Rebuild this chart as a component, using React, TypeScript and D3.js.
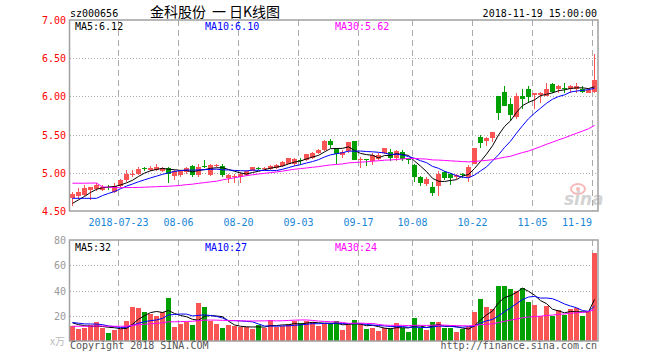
import React from 'react';
import * as d3 from 'd3';

// trading days shown (2018)
const julyDays = [11, 12, 13, 16, 17, 18, 19, 20, 23, 24, 25, 26, 27, 30, 31];
const augDays = [1, 2, 3, 6, 7, 8, 9, 10, 13, 14, 15, 16, 17, 20, 21, 22, 23, 24, 27, 28, 29, 30, 31];
const sepDays = [3, 4, 5, 6, 7, 10, 11, 12, 13, 14, 17, 18, 19, 20, 21, 25, 26, 27, 28];
const octDays = [8, 9, 10, 11, 12, 15, 16, 17, 18, 19, 22, 23, 24, 25, 26, 29, 30, 31];
const novDays = [1, 2, 5, 6, 7, 8, 9, 12, 13, 14, 15, 16, 19];

const pad = (n: number) => String(n).padStart(2, '0');
const dates: string[] = [
  ...julyDays.map(d => `07-${pad(d)}`),
  ...augDays.map(d => `08-${pad(d)}`),
  ...sepDays.map(d => `09-${pad(d)}`),
  ...octDays.map(d => `10-${pad(d)}`),
  ...novDays.map(d => `11-${pad(d)}`),
];

const open = [
  4.67, 4.69, 4.71, 4.77, 4.79, 4.78, 4.81, 4.75, 4.83, 4.90,
  4.97, 4.99, 5.06, 5.04, 5.04, 5.02, 5.06, 4.96, 4.97, 5.01,
  5.09, 4.97, 5.09, 4.97, 5.09, 5.09, 4.93, 4.95, 4.95, 4.97,
  5.03, 5.06, 5.05, 5.05, 5.06, 5.09, 5.12, 5.12, 5.17, 5.17,
  5.19, 5.26, 5.30, 5.42, 5.32, 5.23, 5.28, 5.41, 5.17, 5.18,
  5.16, 5.18, 5.26, 5.27, 5.19, 5.27, 5.18, 5.10, 4.94, 4.85,
  4.81, 4.83, 5.01, 4.99, 4.94, 4.99, 4.95, 5.12, 5.47, 5.42,
  5.45, 6.01, 6.06, 5.90, 5.73, 6.01, 6.10, 6.02, 6.02, 6.01,
  6.16, 6.10, 6.11, 6.10, 6.10, 6.10, 6.05, 6.06,
];
const high = [
  4.75, 4.80, 4.84, 4.82, 4.86, 4.84, 4.84, 4.86, 4.92, 5.04,
  5.04, 5.08, 5.08, 5.09, 5.11, 5.08, 5.07, 5.04, 5.03, 5.07,
  5.10, 5.11, 5.17, 5.11, 5.12, 5.12, 4.99, 4.99, 5.01, 5.04,
  5.08, 5.08, 5.08, 5.10, 5.11, 5.15, 5.20, 5.19, 5.19, 5.25,
  5.27, 5.31, 5.43, 5.44, 5.33, 5.30, 5.40, 5.41, 5.21, 5.18,
  5.26, 5.26, 5.33, 5.31, 5.30, 5.30, 5.19, 5.11, 4.96, 4.94,
  4.88, 5.02, 5.02, 5.00, 4.99, 5.00, 5.10, 5.33, 5.50, 5.47,
  5.53, 6.01, 6.13, 5.98, 6.04, 6.10, 6.13, 6.05, 6.06, 6.18,
  6.17, 6.15, 6.17, 6.15, 6.17, 6.13, 6.11, 6.55,
];
const low = [
  4.57, 4.66, 4.69, 4.64, 4.76, 4.76, 4.78, 4.74, 4.80, 4.88,
  4.94, 4.97, 5.03, 5.03, 5.03, 5.01, 4.86, 4.91, 4.94, 4.99,
  4.95, 4.94, 5.06, 4.96, 5.07, 4.94, 4.87, 4.87, 4.86, 4.96,
  5.02, 5.04, 5.04, 5.04, 5.05, 5.08, 5.11, 5.09, 5.10, 5.16,
  5.18, 5.25, 5.29, 5.32, 5.12, 5.19, 5.26, 5.17, 5.06, 5.09,
  5.10, 5.17, 5.25, 5.15, 5.16, 5.16, 5.12, 4.88, 4.83, 4.83,
  4.70, 4.70, 4.91, 4.84, 4.92, 4.93, 4.88, 5.11, 5.33, 5.35,
  5.40, 5.69, 5.87, 5.68, 5.71, 5.84, 5.91, 5.84, 5.91, 6.00,
  6.04, 6.05, 6.04, 6.05, 6.04, 6.04, 6.04, 6.04,
];
const close = [
  4.72, 4.75, 4.80, 4.81, 4.84, 4.82, 4.80, 4.83, 4.91, 4.98,
  4.99, 5.05, 5.05, 5.06, 5.07, 5.06, 4.99, 5.02, 5.02, 5.06,
  4.97, 5.08, 5.08, 5.10, 5.10, 4.97, 4.97, 4.96, 4.99, 5.03,
  5.07, 5.05, 5.06, 5.09, 5.10, 5.14, 5.19, 5.18, 5.16, 5.24,
  5.26, 5.30, 5.41, 5.37, 5.25, 5.27, 5.40, 5.17, 5.18, 5.17,
  5.23, 5.23, 5.32, 5.19, 5.28, 5.18, 5.17, 4.95, 4.86, 4.92,
  4.74, 4.98, 4.93, 4.93, 4.97, 4.98, 5.08, 5.32, 5.39, 5.45,
  5.53, 5.78, 5.88, 5.76, 6.01, 5.97, 5.99, 6.04, 6.04, 6.10,
  6.06, 6.13, 6.10, 6.13, 6.14, 6.06, 6.08, 6.22,
];
// volume, in 10,000 lots
const volume = [
  11.7, 9.3, 10.3, 13.0, 14.8, 10.1, 6.1, 8.5, 9.3, 15.6,
  26.8, 26.0, 22.8, 21.2, 20.1, 22.8, 33.9, 11.1, 13.2, 15.1,
  12.5, 30.2, 26.8, 16.2, 13.2, 10.1, 12.5, 11.5, 11.1, 11.0,
  9.3, 13.0, 10.6, 17.0, 11.2, 12.0, 13.5, 15.5, 14.5, 15.5,
  15.0, 11.7, 13.8, 14.5, 15.6, 8.7, 12.9, 16.4, 13.2, 9.3,
  10.3, 7.7, 10.5, 10.3, 14.0, 10.1, 6.9, 18.0, 10.1, 8.5,
  14.8, 14.8, 10.1, 10.1, 6.9, 9.3, 11.1, 22.8, 33.1, 26.8,
  25.2, 43.4, 43.4, 41.1, 39.5, 41.9, 30.7, 28.3, 19.6, 27.5,
  19.6, 24.4, 20.4, 25.2, 26.0, 19.6, 24.1, 69.7,
];

// history before the visible window, estimated from where the MA lines start
const priorClose = [
  4.76, 4.79, 4.78, 4.81, 6.35, 4.92, 4.95, 4.98, 4.93, 4.96,
  5.01, 4.97, 4.94, 4.99, 4.95, 4.92, 4.88, 4.82, 4.78, 4.77,
  4.75, 4.80, 4.81, 4.84, 4.46, 4.52, 4.58, 4.55, 4.63,
];
const priorVolume = [
  9.5, 10.8, 11.2, 9.0, 10.4, 12.6, 8.8, 9.7, 11.5, 10.2,
  9.1, 10.9, 12.0, 8.6, 9.8, 10.5, 11.3, 9.4, 10.1, 8.9,
  14.2, 16.1, 13.8, 15.4, 14.9, 16.3, 14.1, 15.8, 13.9,
];

const tickDates = ['07-23', '08-06', '08-20', '09-03', '09-17', '10-08', '10-22', '11-05', '11-19'];
const tickLabels = ['2018-07-23', '08-06', '08-20', '09-03', '09-17', '10-08', '10-22', '11-05', '11-19'];
const priceTicks = [7.0, 6.5, 6.0, 5.5, 5.0, 4.5];
const volumeTicks = [80, 60, 40, 20];
const priceMaLabels = ['MA5:6.12', 'MA10:6.10', 'MA30:5.62'];
const volumeMaLabels = ['MA5:32', 'MA10:27', 'MA30:24'];
const titleParts = ['金科股份', '一', '日K线图'];
const maPeriods = [5, 10, 30];
const maColors = ['#000000', '#0000ff', '#ff00ff'];

const RED = '#f95555';
const GREEN = '#00a000';
const GRID = '#aaaaaa';
const FRAME = '#a0a0a0';
const MONO = '"DejaVu Sans Mono", monospace';
const CJK = '"Noto Sans CJK SC", sans-serif';

const movingAverage = (values: number[], prior: number[], n: number) => {
  const all = prior.concat(values);
  return values.map((_, i) => d3.mean(all.slice(prior.length + i - n + 1, prior.length + i + 1)) as number);
};

const App = () => {
  const left = 70;
  const right = 598;
  const x = d3.scaleBand<string>().domain(dates).range([left, right]).padding(0);
  const y = d3.scaleLinear().domain([4.5, 7]).range([211, 20]);
  const yv = d3.scaleLinear().domain([0, 80]).range([341, 240]);
  const cx = (i: number) => (x(dates[i]) as number) + 2.5;

  const priceLine = d3.line<number>().x((_, i) => cx(i)).y(d => y(d));
  const volLine = d3.line<number>().x((_, i) => cx(i)).y(d => yv(d));

  const priceMas = maPeriods.map(n => movingAverage(close, priorClose, n));
  const volMas = maPeriods.map(n => movingAverage(volume, priorVolume, n));

  const isUp = (i: number) => close[i] >= open[i];

  const gridX = tickDates.map(d => (x(d) as number) + 0.5);
  const titleX = [150, 212, 229];

  return (
    <svg width={660} height={360} style={{ position: 'absolute', left: 0, top: 0, background: '#fff' }}>
      <rect x={0} y={0} width={660} height={360} fill="#fff" />
      {/* header */}
      <text x={70} y={17} fontFamily={MONO} fontSize={10} fill="#000">sz000656</text>
      {titleParts.map((t, k) => (
        <text key={t} x={titleX[k]} y={17} fontFamily={CJK} fontSize={14} fill="#000">{t}</text>
      ))}
      <text x={597} y={17} textAnchor="end" fontFamily={MONO} fontSize={10} fill="#000">2018-11-19 15:00:00</text>

      {/* grid */}
      {priceTicks.slice(1, -1).map(t => (
        <line key={t} x1={left} x2={right} y1={Math.round(y(t)) + 0.5} y2={Math.round(y(t)) + 0.5}
          stroke={GRID} strokeDasharray="1,2" />
      ))}
      {volumeTicks.slice(1).map(t => (
        <line key={t} x1={left} x2={right} y1={Math.round(yv(t)) + 0.5} y2={Math.round(yv(t)) + 0.5}
          stroke={GRID} strokeDasharray="1,2" />
      ))}
      {gridX.map(gx => (
        <g key={gx}>
          <line x1={gx} x2={gx} y1={20} y2={211} stroke={GRID} strokeDasharray="6,4" />
          <line x1={gx} x2={gx} y1={240} y2={341} stroke={GRID} strokeDasharray="6,4" />
        </g>
      ))}

      {/* axis labels */}
      {priceTicks.map(t => (
        <text key={t} x={66} y={y(t) + 4} textAnchor="end" fontFamily={MONO} fontSize={10} fill="#ff0000">
          {t.toFixed(2)}
        </text>
      ))}
      {volumeTicks.map(t => (
        <text key={t} x={66} y={yv(t) + 4} textAnchor="end" fontFamily={MONO} fontSize={10} fill="#999">{t}</text>
      ))}
      <text x={50} y={345} fontFamily={CJK} fontSize={10} fill="#bbb">x万</text>

      {tickDates.map((d, k) => {
        const label = tickLabels[k];
        const half = label.length * 3;
        const tx = Math.min(gridX[k], 592 - half);
        return (
          <text key={d} x={tx} y={226} textAnchor="middle" fontFamily={MONO} fontSize={10} fill="#1a86d6">{label}</text>
        );
      })}

      {/* watermark */}
      <g opacity={0.55}>
        <ellipse cx={578} cy={189} rx={7} ry={5} fill="none" stroke="#f08080" strokeWidth={2} />
        <circle cx={578} cy={189} r={2} fill="#f08080" />
        <text x={564} y={205} fontFamily='"DejaVu Sans", sans-serif' fontStyle="italic" fontWeight="bold" fontSize={17} fill="#b0b0b0">sina</text>
      </g>

      {/* candles */}
      {dates.map((d, i) => {
        const bx = x(d) as number;
        const color = isUp(i) ? RED : GREEN;
        const top = Math.round(y(Math.max(open[i], close[i])));
        const bot = Math.round(y(Math.min(open[i], close[i])));
        return (
          <g key={d}>
            <line x1={bx + 2.5} x2={bx + 2.5} y1={Math.round(y(high[i]))} y2={Math.round(y(low[i]))} stroke={color} />
            <rect x={bx} y={top} width={5} height={Math.max(1, bot - top)} fill={color} />
          </g>
        );
      })}

      {/* volume bars */}
      {dates.map((d, i) => {
        const bx = x(d) as number;
        const top = Math.round(yv(volume[i]));
        return <rect key={d} x={bx} y={top} width={5} height={341 - top} fill={isUp(i) ? RED : GREEN} />;
      })}

      {/* moving averages */}
      {priceMas.map((ma, k) => (
        <path key={k} d={priceLine(ma) as string} fill="none" stroke={maColors[k]} strokeWidth={1} />
      ))}
      {volMas.map((ma, k) => (
        <path key={k} d={volLine(ma) as string} fill="none" stroke={maColors[k]} strokeWidth={1} />
      ))}

      {/* frames */}
      <rect x={69.5} y={20} width={right - 69.5} height={191} fill="none" stroke={FRAME} strokeWidth={1.5} />
      <rect x={69.5} y={240} width={right - 69.5} height={101} fill="none" stroke={FRAME} strokeWidth={1.5} />

      {/* MA legends */}
      {priceMaLabels.map((t, k) => (
        <text key={t} x={75 + 130 * k} y={30} fontFamily={MONO} fontSize={10} fill={maColors[k]}>{t}</text>
      ))}
      {volumeMaLabels.map((t, k) => (
        <text key={t} x={75 + 130 * k} y={251} fontFamily={MONO} fontSize={10} fill={maColors[k]}>{t}</text>
      ))}

      {/* footer */}
      <text x={70} y={349} fontFamily={MONO} fontSize={10} fill="#555">Copyright 2018 SINA.COM</text>
      <text x={597} y={349} textAnchor="end" fontFamily={MONO} fontSize={10} fill="#555">http://finance.sina.com.cn</text>
    </svg>
  );
};

export default App;
